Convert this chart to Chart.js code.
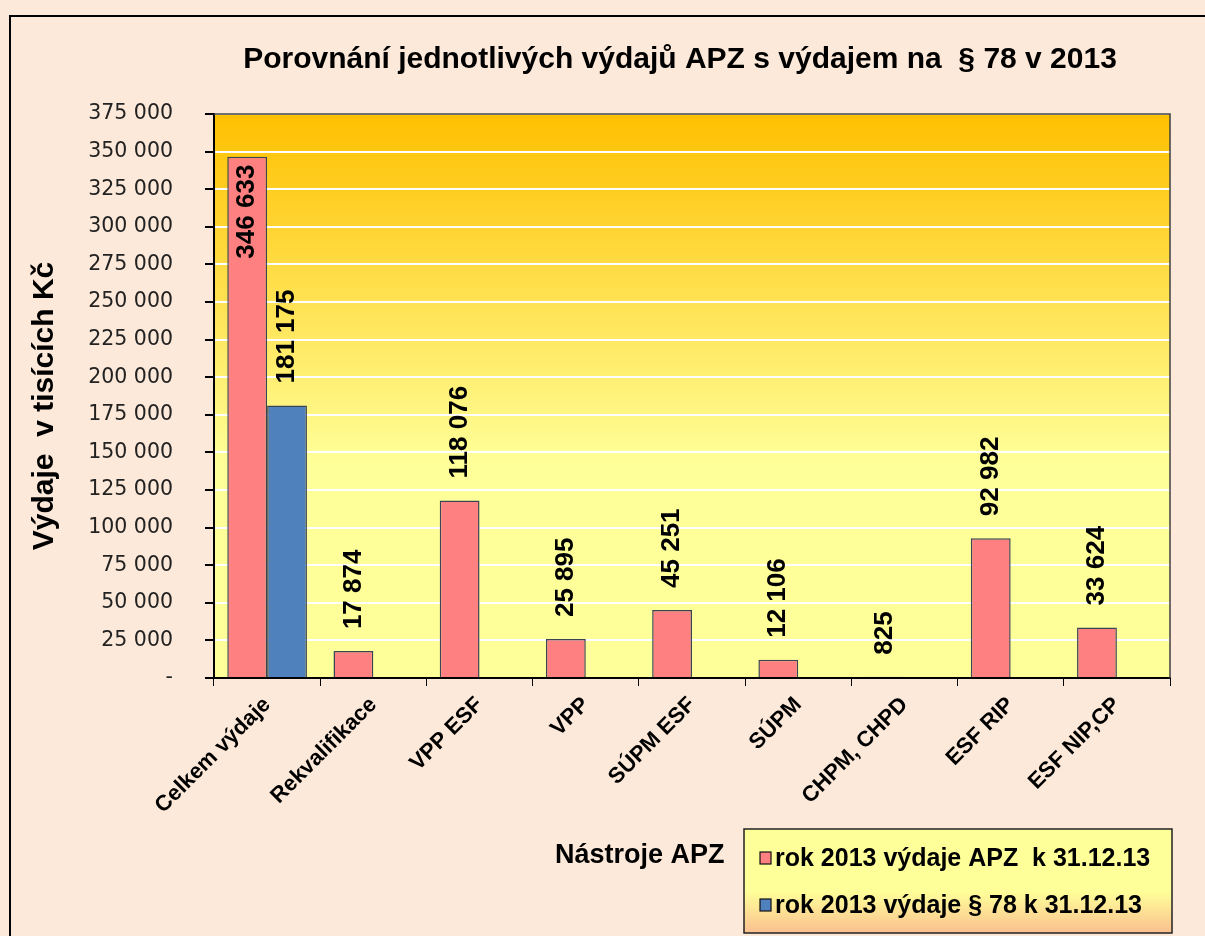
<!DOCTYPE html>
<html>
<head>
<meta charset="utf-8">
<script src="https://cdn.jsdelivr.net/npm/chart.js@4/dist/chart.umd.min.js"></script>
<style>
body{margin:0;background:#fff;}
canvas{display:block;}
</style>
</head>
<body>
<canvas id="myChart" width="1205" height="936"></canvas>
<script>
// data
const categories = ['Celkem výdaje', 'Rekvalifikace', 'VPP ESF', 'VPP', 'SÚPM ESF', 'SÚPM', 'CHPM, CHPD', 'ESF RIP', 'ESF NIP,CP'];
const apzValues = [346633, 17874, 118076, 25895, 45251, 12106, 825, 92982, 33624];
const par78Values = [181175, null, null, null, null, null, null, null, null];
const seriesNames = ['rok 2013 výdaje APZ  k 31.12.13', 'rok 2013 výdaje § 78 k 31.12.13'];
const yMax = 375000;
const yStep = 25000;

const titleText = 'Porovnání jednotlivých výdajů APZ s výdajem na  § 78 v 2013';
const yTitle = 'Výdaje  v tisících Kč';
const xTitle = 'Nástroje APZ';

const pink = '#FF8080';
const blue = '#4F81BD';
const edge = '#3b4455';
const fontFam = '"Liberation Sans", Arial, sans-serif';

function strFormate(v) {
  return String(v).replace(/\B(?=(\d{3})+(?!\d))/g, ' ');
}

// background, plot gradient, title, axis titles and legend
const decor = {
  id: 'decor',
  beforeDraw(chart) {
    let ctx = chart.ctx;
    let a = chart.chartArea;
    ctx.save();
    ctx.fillStyle = '#FDE9D9';
    ctx.fillRect(0, 0, chart.width, chart.height);
    ctx.strokeStyle = '#000';
    ctx.lineWidth = 2;
    ctx.strokeRect(10, 16, chart.width + 10, chart.height + 10);

    let g = ctx.createLinearGradient(0, a.top, 0, a.bottom);
    g.addColorStop(0, '#FFC000');
    g.addColorStop(0.62, '#FFFF99');
    g.addColorStop(1, '#FFFF99');
    ctx.fillStyle = g;
    ctx.fillRect(a.left, a.top, a.right - a.left, a.bottom - a.top);
    ctx.restore();
  },
  afterDraw(chart) {
    let ctx = chart.ctx;
    let a = chart.chartArea;
    ctx.save();
    // plot frame top/right
    ctx.strokeStyle = '#404040';
    ctx.lineWidth = 1.5;
    ctx.beginPath();
    ctx.moveTo(a.left, a.top);
    ctx.lineTo(a.right, a.top);
    ctx.lineTo(a.right, a.bottom);
    ctx.stroke();

    ctx.fillStyle = '#000';
    ctx.font = 'bold 30px ' + fontFam;
    ctx.textAlign = 'center';
    ctx.textBaseline = 'middle';
    ctx.fillText(titleText, 680, 60);

    ctx.save();
    ctx.translate(45, 406);
    ctx.rotate(-Math.PI / 2);
    ctx.font = 'bold 30px ' + fontFam;
    ctx.fillText(yTitle, 0, 0);
    ctx.restore();

    ctx.textAlign = 'left';
    ctx.font = 'bold 27px ' + fontFam;
    ctx.fillText(xTitle, 555, 856);

    // legend box
    let lx = 744, ly = 829, lw = 428, lh = 104;
    let lg = ctx.createLinearGradient(0, ly, 0, ly + lh);
    lg.addColorStop(0, '#FFFF99');
    lg.addColorStop(0.6, '#FFFF99');
    lg.addColorStop(1, '#FAC090');
    ctx.fillStyle = lg;
    ctx.fillRect(lx, ly, lw, lh);
    ctx.strokeStyle = '#222';
    ctx.lineWidth = 1.5;
    ctx.strokeRect(lx, ly, lw, lh);

    let colors = [pink, blue];
    ctx.font = 'bold 25px ' + fontFam;
    seriesNames.forEach((name, i) => {
      let y = 858 + i * 47;
      ctx.fillStyle = colors[i];
      ctx.fillRect(760, y - 6, 11, 12);
      ctx.strokeStyle = '#111';
      ctx.lineWidth = 1.2;
      ctx.strokeRect(760, y - 6, 11, 12);
      ctx.fillStyle = '#000';
      ctx.fillText(name, 775, y + 1);
    });
    ctx.restore();
  }
};

// rotated value labels above bars
const barLabels = {
  id: 'barLabels',
  afterDatasetsDraw(chart) {
    let ctx = chart.ctx;
    let a = chart.chartArea;
    ctx.save();
    ctx.font = 'bold 26px ' + fontFam;
    ctx.fillStyle = '#000';
    ctx.textBaseline = 'middle';
    chart.data.datasets.forEach((ds, i) => {
      let meta = chart.getDatasetMeta(i);
      meta.data.forEach((bar, j) => {
        let v = ds.data[j];
        if (v == null) return;
        let txt = strFormate(v);
        let w = ctx.measureText(txt).width;
        ctx.save();
        ctx.translate(bar.x, bar.y);
        ctx.rotate(-Math.PI / 2);
        if (bar.y - 22 - w < a.top) {
          ctx.textAlign = 'right';
          ctx.fillText(txt, -8, 0);
        } else {
          ctx.textAlign = 'left';
          ctx.fillText(txt, 22, 0);
        }
        ctx.restore();
      });
    });
    ctx.restore();
  }
};

const data = {
  labels: categories,
  datasets: [{
    label: seriesNames[0],
    data: apzValues,
    backgroundColor: pink,
    borderColor: edge,
    borderWidth: 1.5,
    categoryPercentage: 0.75,
    barPercentage: 1
  }, {
    label: seriesNames[1],
    data: par78Values,
    backgroundColor: blue,
    borderColor: edge,
    borderWidth: 1.5,
    categoryPercentage: 0.75,
    barPercentage: 1
  }]
};

const config = {
  type: 'bar',
  data: data,
  options: {
    responsive: false,
    animation: false,
    layout: { padding: { left: 0, top: 114, right: 35, bottom: 0 } },
    plugins: {
      legend: { display: false },
      title: { display: false },
      tooltip: { enabled: false }
    },
    scales: {
      x: {
        afterFit: (s) => { s.height = 258; },
        grid: { drawOnChartArea: false, tickLength: 8, tickColor: '#000', offset: true },
        border: { color: '#000', width: 2 },
        ticks: {
          minRotation: 45,
          maxRotation: 45,
          padding: 6,
          color: '#000',
          font: { family: fontFam, size: 22, weight: 'bold' }
        }
      },
      y: {
        min: 0,
        max: yMax,
        afterFit: (s) => { s.width = 214; },
        grid: { color: '#FFFFFF', lineWidth: 2, tickLength: 9, tickColor: '#000' },
        border: { color: '#000', width: 2 },
        ticks: {
          stepSize: yStep,
          padding: 32,
          color: '#222',
          font: { family: '"DejaVu Sans", Verdana, sans-serif', size: 20.5 },
          callback: (v) => v === 0 ? '-' : strFormate(v)
        }
      }
    }
  },
  plugins: [decor, barLabels]
};

let chartSheet = document.getElementById('myChart');
const myChart = new Chart(chartSheet, config);
</script>
</body>
</html>
